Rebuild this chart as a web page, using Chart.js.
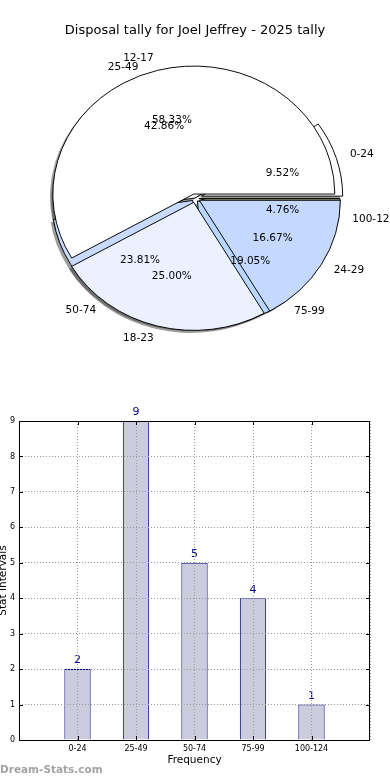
<!DOCTYPE html>
<html>
<head>
<meta charset="utf-8">
<title>Disposal tally for Joel Jeffrey - 2025 tally</title>
<script src="https://cdn.jsdelivr.net/npm/chart.js@4.4.1/dist/chart.umd.min.js"></script>
<style>
    html, body { margin: 0; padding: 0; background: #fff; }
    #page { position: relative; width: 390px; height: 780px; overflow: hidden; font-family: 'DejaVu Sans', sans-serif; }
    #pieTitle { position: absolute; top: 21px; left: 0; width: 390px; text-align: center; font-size: 13px; line-height: 17px; color: #000; z-index: 3; }
    #pieA, #pieB { position: absolute; left: 0; top: 0; }
    #pieA { z-index: 1; }
    #pieB { z-index: 2; }
    #bars { position: absolute; left: 0; top: 400px; }
</style>
</head>
<body>
<div id="page">
    <canvas id="pieA" width="390" height="400"></canvas>
    <canvas id="pieB" width="390" height="400"></canvas>
    <div id="pieTitle">Disposal tally for Joel Jeffrey - 2025 tally</div>
    <canvas id="bars" width="390" height="380"></canvas>
</div>
<script>
// Data
const intervals = ['0-24', '25-49', '50-74', '75-99', '100-124'];
const intervalCounts = [2, 9, 5, 4, 1];
const ageGroups = ['12-17', '18-23', '24-29'];
const ageCounts = [7, 3, 2];
const yTicks = [0, 1, 2, 3, 4, 5, 6, 7, 8, 9];

// Slice styling (explode is in pixels)
const intervalColors = ['#ffffff', '#ffffff', '#c9daff', '#b9d7ff', '#8d9372'];
const intervalExplode = [7, 0, 3.5, 4, 4];
const ageColors = ['#ffffff', '#ebf1ff', '#c5d9ff'];
const ageExplode = [4.5, 5, 5];

const PIE_RADIUS = 141;
const SQUASH = 128 / 141;   // the original pie is an ellipse
const FONT = "'DejaVu Sans', sans-serif";

Chart.defaults.font.family = FONT;
Chart.defaults.color = '#000';

const pies = [];

// put the drawing context into the (exploded) ellipse frame of one slice
function sliceFrame(ctx, arc, explode, dx = 0, dy = 0) {
    const mid = (arc.startAngle + arc.endAngle) / 2;
    ctx.translate(arc.x, arc.y);
    ctx.scale(1, SQUASH);
    ctx.translate(-arc.x + Math.cos(mid) * explode + dx, -arc.y + Math.sin(mid) * explode + dy);
}

function slicePoint(arc, explode, dist) {
    const mid = (arc.startAngle + arc.endAngle) / 2;
    const r = arc.outerRadius * dist + explode;
    return {
        x: arc.x + Math.cos(mid) * r,
        y: arc.y + Math.sin(mid) * r * SQUASH,
        left: Math.cos(mid) < 0
    };
}

function drawShadows(ctx) {
    pies.forEach(p => {
        const ex = p.data.datasets[0].explode;
        p.getDatasetMeta(0).data.forEach((arc, i) => {
            ctx.save();
            sliceFrame(ctx, arc, ex[i], -2.8, 2.8);
            ctx.fillStyle = 'rgba(60, 60, 60, 0.5)';
            ctx.beginPath();
            ctx.moveTo(arc.x, arc.y);
            ctx.arc(arc.x, arc.y, arc.outerRadius, arc.startAngle, arc.endAngle);
            ctx.closePath();
            ctx.fill();
            ctx.restore();
        });
    });
}

const ellipsePie = {
    id: 'ellipsePie',
    beforeDatasetDraw(chart, args) {
        const ctx = chart.ctx;
        const ex = chart.data.datasets[args.index].explode;
        if (chart.canvas.id === 'pieA') drawShadows(ctx);
        args.meta.data.forEach((arc, i) => {
            ctx.save();
            sliceFrame(ctx, arc, ex[i]);
            arc.draw(ctx);
            ctx.restore();
        });
        return false;
    }
};

// all pie texts sit on the top canvas
const pieLabels = {
    id: 'pieLabels',
    afterDraw(chart) {
        const ctx = chart.ctx;
        ctx.save();
        ctx.font = '10.5px ' + FONT;
        ctx.fillStyle = '#000';
        ctx.textBaseline = 'middle';
        pies.forEach(p => {
            const ds = p.data.datasets[0];
            const total = ds.data.reduce((a, b) => a + b, 0);
            p.getDatasetMeta(0).data.forEach((arc, i) => {
                const name = slicePoint(arc, ds.explode[i], 1.1);
                ctx.textAlign = name.left ? 'right' : 'left';
                ctx.fillText(p.data.labels[i], name.x, name.y);
                const pct = slicePoint(arc, ds.explode[i], 0.6);
                ctx.textAlign = 'center';
                ctx.fillText((ds.data[i] / total * 100).toFixed(2) + '%', pct.x, pct.y);
            });
        });
        ctx.restore();
    }
};

// Chart.js runs clockwise, the original counter-clockwise: feed the slices reversed
function pieConfig(labels, counts, colors, explode, extra) {
    return {
        type: 'pie',
        data: {
            labels: [...labels].reverse(),
            datasets: [{
                data: [...counts].reverse(),
                backgroundColor: [...colors].reverse(),
                explode: [...explode].reverse(),
                borderColor: '#000',
                borderWidth: 1,
                borderJoinStyle: 'miter'
            }]
        },
        options: {
            responsive: false,
            animation: false,
            events: [],
            radius: PIE_RADIUS,
            rotation: 90,
            layout: { padding: { bottom: 4 } },
            plugins: { legend: { display: false }, tooltip: { enabled: false } }
        },
        plugins: [ellipsePie].concat(extra)
    };
}

const pieA = new Chart(document.getElementById('pieA'), pieConfig(intervals, intervalCounts, intervalColors, intervalExplode, []));
pies.push(pieA);
const pieB = new Chart(document.getElementById('pieB'), pieConfig(ageGroups, ageCounts, ageColors, ageExplode, [pieLabels]));
pies.push(pieB);
pieA.draw();
pieB.draw();

// Bar chart
const barValues = {
    id: 'barValues',
    afterDatasetsDraw(chart) {
        const ctx = chart.ctx;
        const ds = chart.data.datasets[0];
        ctx.save();
        ctx.font = '11px ' + FONT;
        ctx.fillStyle = '#00008b';
        ctx.textAlign = 'center';
        ctx.textBaseline = 'bottom';
        chart.getDatasetMeta(0).data.forEach((bar, i) => {
            if (ds.data[i] == null) return;
            ctx.fillText(String(ds.data[i]), bar.x, bar.y - 3);
        });
        ctx.restore();
    }
};

const axesFrame = {
    id: 'axesFrame',
    afterDraw(chart) {
        const { ctx, chartArea: a, scales } = chart;
        ctx.save();
        ctx.strokeStyle = '#000';
        ctx.lineWidth = 1;
        ctx.strokeRect(Math.round(a.left) + 0.5, Math.round(a.top) + 0.5, Math.round(a.right - a.left) - 1, Math.round(a.bottom - a.top));
        ctx.beginPath();
        yTicks.forEach(v => {
            const y = Math.round(scales.y.getPixelForValue(v)) + 0.5;
            ctx.moveTo(a.left, y); ctx.lineTo(a.left + 4, y);
            ctx.moveTo(a.right - 4, y); ctx.lineTo(a.right, y);
        });
        intervals.forEach((c, i) => {
            const x = Math.round(scales.x.getPixelForValue(i + 1)) + 0.5;
            ctx.moveTo(x, a.bottom); ctx.lineTo(x, a.bottom - 4);
            ctx.moveTo(x, a.top); ctx.lineTo(x, a.top + 4);
        });
        ctx.stroke();
        // site mark
        ctx.font = 'bold 10.5px ' + FONT;
        ctx.fillStyle = '#a3a3a3';
        ctx.textAlign = 'left';
        ctx.textBaseline = 'middle';
        ctx.fillText('Dream-Stats.com', 0, chart.height - 10);
        ctx.restore();
    }
};

new Chart(document.getElementById('bars'), {
    type: 'bar',
    data: {
        labels: [''].concat(intervals, ['']),
        datasets: [{
            data: [null].concat(intervalCounts, [null]),
            backgroundColor: '#ccccdf',
            borderColor: '#00007f',
            borderWidth: 1,
            barPercentage: 0.45,
            categoryPercentage: 1
        }]
    },
    options: {
        responsive: false,
        animation: false,
        events: [],
        layout: { padding: { top: 21, right: 20, bottom: 12, left: 0 } },
        plugins: { legend: { display: false }, tooltip: { enabled: false } },
        scales: {
            x: {
                offset: false,
                grid: { color: '#9a9a9a', z: 1, drawTicks: false, offset: false },
                border: { display: false, dash: [1, 2] },
                ticks: { font: { size: 8 }, padding: 4, maxRotation: 0, autoSkip: false },
                title: { display: true, text: 'Frequency', font: { size: 10.5 }, padding: { top: 0, bottom: 1.5 } },
                afterFit(s) { s.height = 28; }
            },
            y: {
                min: yTicks[0],
                max: yTicks[yTicks.length - 1],
                grid: { color: '#9a9a9a', z: 1, drawTicks: false },
                border: { display: false, dash: [1, 2] },
                ticks: { stepSize: 1, font: { size: 8 }, padding: 4 },
                title: { display: true, text: 'Stat Intervals', font: { size: 10.5 }, padding: { top: -3.5, bottom: 0 } },
                afterFit(s) { s.width = 19; }
            }
        }
    },
    plugins: [barValues, axesFrame]
});
</script>
</body>
</html>
